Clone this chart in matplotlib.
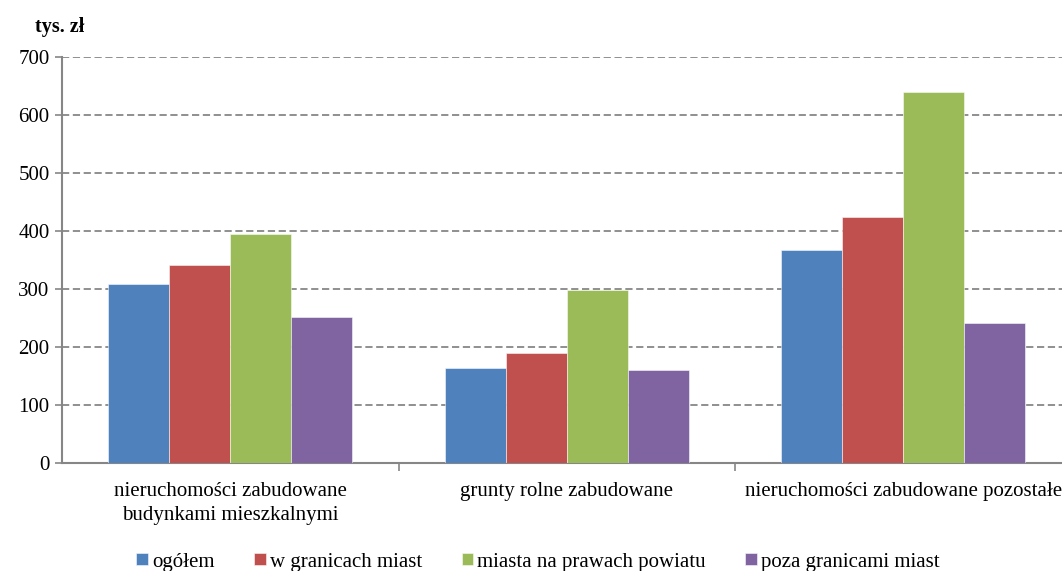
import matplotlib
matplotlib.use("Agg")
import matplotlib.pyplot as plt
import numpy as np

categories = ["nieruchomości zabudowane\nbudynkami mieszkalnymi",
              "grunty rolne zabudowane",
              "nieruchomości zabudowane pozostałe"]
series_names = ["ogółem", "w granicach miast", "miasta na prawach powiatu", "poza granicami miast"]
ogolem = [308, 163, 367]
w_granicach = [341, 190, 425]
miasta_npp = [394, 298, 640]
poza = [251, 161, 241]
yticks = [0, 100, 200, 300, 400, 500, 600, 700]
colors = ["#4F81BD", "#C0504D", "#9BBB59", "#8064A2"]

plt.rcParams['font.family'] = ['Liberation Serif', 'DejaVu Serif']

fig = plt.figure(figsize=(10.62, 5.71), dpi=100)
ax = fig.add_axes([62/1062, 1-463/571, (1071.5-62)/1062, (463-57)/571])

x = np.arange(len(categories))
w = 0.181
data = [ogolem, w_granicach, miasta_npp, poza]
for i, (vals, c, name) in enumerate(zip(data, colors, series_names)):
    ax.bar(x + (i - 1.5) * w, vals, width=w, color=c, label=name,
           edgecolor=(1, 1, 1, 0.6), linewidth=0.6, zorder=3)

fs = 15
ax.set_xlim(-0.5, 2.5)
ax.set_ylim(0, 700)
ax.set_yticks(yticks)
ax.set_yticklabels([str(v) for v in yticks], fontsize=fs)
ax.set_xticks(x)
ax.set_xticklabels(categories, fontsize=fs, linespacing=1.3)
ax.set_xticks([0.5, 1.5], minor=True)
ax.tick_params(axis='x', which='major', length=0, pad=14)
ax.tick_params(axis='x', which='minor', length=6, width=1.2, color='#868686', direction='out')
ax.tick_params(axis='y', length=5, width=1.2, color='#868686', direction='out', pad=4)

ax.yaxis.grid(True, linestyle=(0, (4, 2)), color='#878787', linewidth=1.3, zorder=0)
ax.set_axisbelow(True)
for s in ['top', 'right']:
    ax.spines[s].set_visible(False)
for s in ['left', 'bottom']:
    ax.spines[s].set_color('#868686')
    ax.spines[s].set_linewidth(1.5)

fig.text(35/1062, 1-27/571, "tys. zł", fontsize=14.5, fontweight='bold', va='center', ha='left')

fig.legend(loc='center', bbox_to_anchor=(538/1062, 1-562/571), ncol=4, frameon=False,
           fontsize=fs, handlelength=0.55, handleheight=0.55, handletextpad=0.2,
           columnspacing=1.9)

fig.savefig("out.png", dpi=100)
